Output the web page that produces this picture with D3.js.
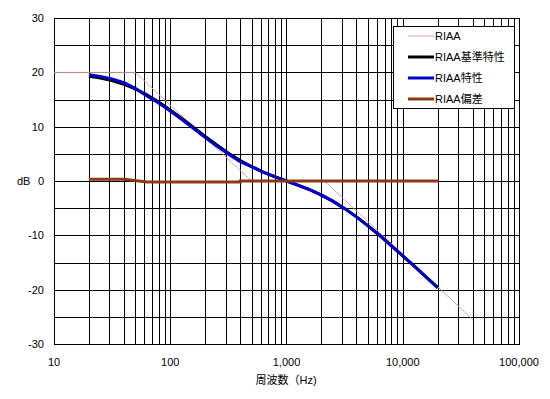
<!DOCTYPE html>
<html>
<head>
<meta charset="utf-8">
<script src="https://cdn.jsdelivr.net/npm/d3@7"></script>
<style>
  body { margin: 0; background: #fff; }
  svg text { font-family: "Liberation Sans", "Noto Sans CJK JP", sans-serif; font-size: 11px; fill: #000; }
</style>
</head>
<body>
<div id="chart"></div>
<script>
// RIAA asymptote (pink)
const riaaFreq = [10, 50, 500, 2122, 40000];
const riaaDb = [20, 20, 0, 0, -25.5];

// 1/3 octave frequencies for measured / reference curves
const freq = [20, 25, 31.5, 40, 50, 63, 80, 100, 125, 160, 200, 250, 315, 400, 500, 630, 800,
  1000, 1250, 1600, 2000, 2500, 3150, 4000, 5000, 6300, 8000, 10000, 12500, 16000, 20000];
// RIAA基準特性 (black)
const baseDb = [19.27, 18.95, 18.48, 17.79, 16.95, 15.85, 14.51, 13.09, 11.56, 9.81, 8.21, 6.68, 5.17, 3.78, 2.65, 1.64, 0.75,
  0, -0.75, -1.64, -2.59, -3.70, -5.04, -6.60, -8.22, -9.98, -11.93, -13.76, -15.63, -17.72, -19.63];
// RIAA特性 (blue)
const measDb = [19.57, 19.25, 18.78, 18.09, 17.05, 15.65, 14.31, 12.89, 11.36, 9.61, 8.01, 6.48, 4.97, 3.58, 2.65, 1.64, 0.75,
  0, -0.75, -1.64, -2.59, -3.70, -5.04, -6.60, -8.22, -9.98, -11.93, -13.76, -15.63, -17.72, -19.63];
// RIAA偏差 (brown)
const devFreq = [20, 40, 63, 400, 400, 20000];
const devDb = [0.3, 0.3, -0.2, -0.2, 0, 0];

const xTicks = [10, 100, 1000, 10000, 100000];
const yTicks = [-30, -20, -10, 0, 10, 20, 30];
const legendNames = ['RIAA', 'RIAA基準特性', 'RIAA特性', 'RIAA偏差'];
const colors = ['#e3a3a3', '#000000', '#0000c8', '#8b3a0e'];

function draw () {
  const svgWidth = 550;
  const svgHeight = 399;

  const svg = d3.select('#chart')
    .append('svg')
    .attr('width', svgWidth)
    .attr('height', svgHeight);

  const x = d3.scaleLog().domain([10, 100000]).range([54, 519]);
  const y = d3.scaleLinear().domain([-30, 30]).range([344, 18]);

  // grid
  const grid = svg.append('g').attr('transform', 'translate(0.5,0.5)');
  const minor = [];
  for (let d = 10; d < 100000; d *= 10) {
    for (let k = 1; k < 10; k++) minor.push(d * k);
  }
  grid.selectAll('line.v')
    .data(minor)
    .join('line')
    .attr('x1', d => Math.round(x(d))).attr('x2', d => Math.round(x(d)))
    .attr('y1', y(30)).attr('y2', y(-30))
    .attr('stroke', '#000');
  grid.selectAll('line.h')
    .data(d3.range(-30, 31, 5))
    .join('line')
    .attr('x1', x(10)).attr('x2', x(100000))
    .attr('y1', d => Math.round(y(d))).attr('y2', d => Math.round(y(d)))
    .attr('stroke', '#000');
  grid.append('rect')
    .attr('x', x(10)).attr('y', y(30))
    .attr('width', x(100000) - x(10)).attr('height', y(-30) - y(30))
    .attr('fill', 'none').attr('stroke', '#000');

  // axes labels
  const fmt = d3.format(',');
  svg.append('g').selectAll('text')
    .data(xTicks)
    .join('text')
    .attr('x', d => x(d))
    .attr('y', 366)
    .attr('text-anchor', 'middle')
    .text(d => fmt(d));
  svg.append('g').selectAll('text')
    .data(yTicks)
    .join('text')
    .attr('x', 44)
    .attr('y', d => y(d) + 4)
    .attr('text-anchor', 'end')
    .text(d => d);
  svg.append('text').attr('x', 17).attr('y', y(0) + 4).text('dB');
  svg.append('text').attr('x', 286).attr('y', 384)
    .attr('text-anchor', 'middle').text('周波数（Hz)');

  const line = d3.line()
    .x(d => x(d[0]))
    .y(d => y(d[1]));

  svg.append('path')
    .datum(d3.zip(riaaFreq, riaaDb))
    .attr('fill', 'none').attr('stroke', colors[0]).attr('stroke-width', 1)
    .attr('d', line);
  svg.append('path')
    .datum(d3.zip(freq, baseDb))
    .attr('fill', 'none').attr('stroke', colors[1]).attr('stroke-width', 3)
    .attr('d', line);
  svg.append('path')
    .datum(d3.zip(freq, measDb))
    .attr('fill', 'none').attr('stroke', colors[2]).attr('stroke-width', 3)
    .attr('d', line);
  svg.append('path')
    .datum(d3.zip(devFreq, devDb))
    .attr('fill', 'none').attr('stroke', colors[3]).attr('stroke-width', 3)
    .attr('d', line);

  // legend
  const lg = svg.append('g');
  lg.append('rect')
    .attr('x', 393.5).attr('y', 26.5).attr('width', 121).attr('height', 82)
    .attr('fill', '#fff').attr('stroke', '#000');
  const rows = lg.selectAll('g.row')
    .data(legendNames)
    .join('g')
    .attr('transform', (d, i) => `translate(0, ${36 + i * 21})`);
  rows.append('line')
    .attr('x1', 408).attr('x2', 434).attr('y1', 0).attr('y2', 0)
    .attr('stroke', (d, i) => colors[i])
    .attr('stroke-width', (d, i) => i === 0 ? 1 : 3);
  rows.append('text')
    .attr('x', 435).attr('y', 4)
    .text(d => d);
}
draw();
</script>
</body>
</html>
